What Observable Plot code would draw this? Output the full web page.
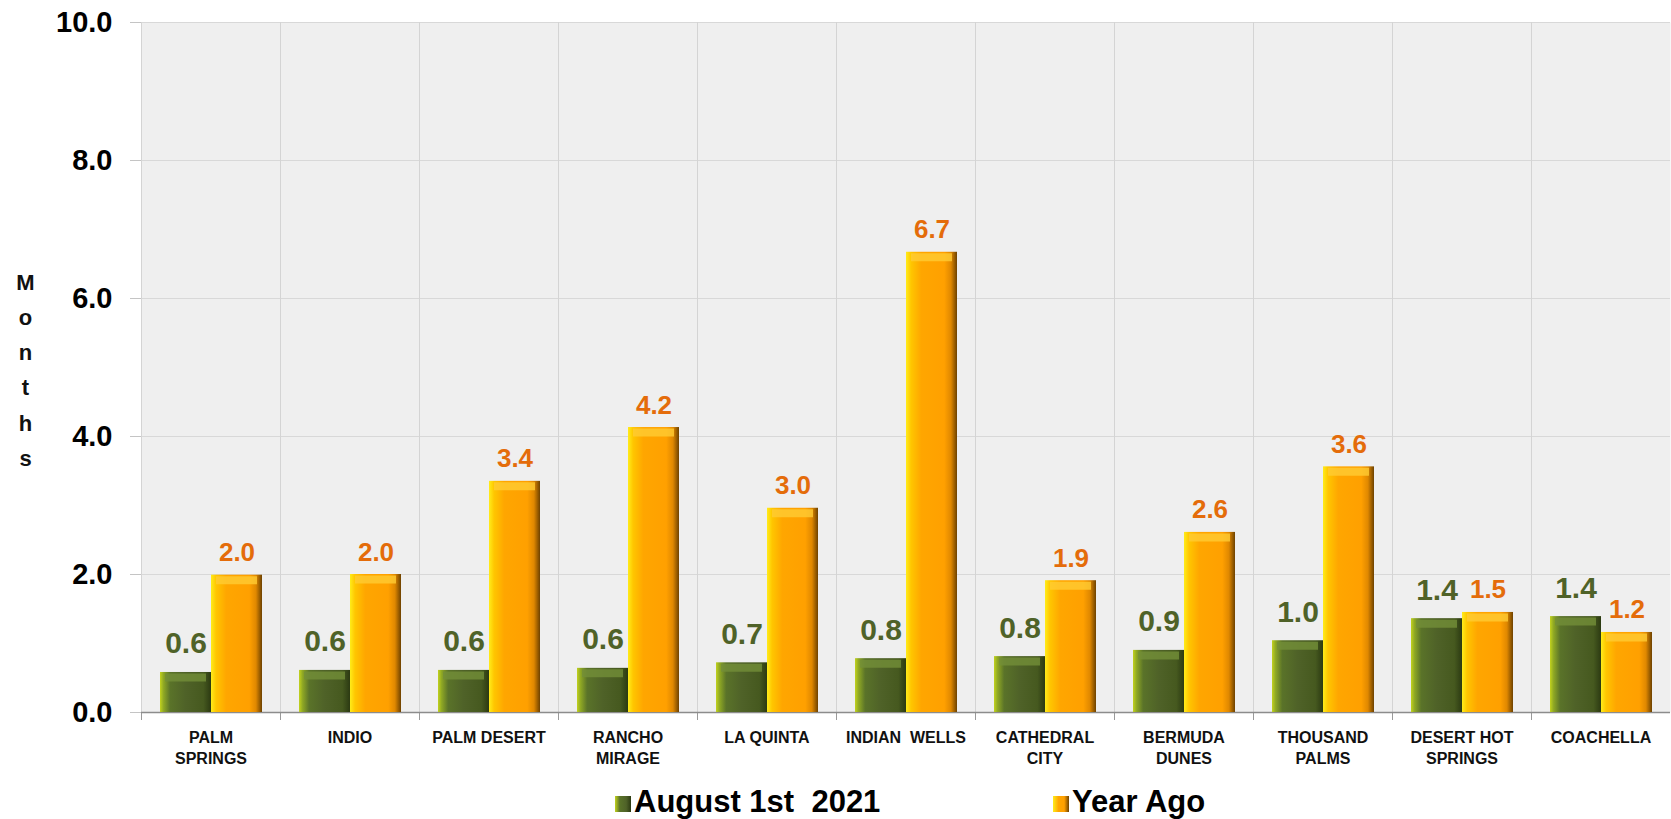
<!DOCTYPE html>
<html>
<head>
<meta charset="utf-8">
<script src="https://cdn.jsdelivr.net/npm/d3@7"></script>
<script src="https://cdn.jsdelivr.net/npm/@observablehq/plot@0.6"></script>
<style>
  html, body { margin: 0; padding: 0; background: #fff; }
  body { width: 1671px; height: 819px; overflow: hidden; font-family: "Liberation Sans", Arial, sans-serif; }
  #legend { position: relative; height: 47px; width: 1671px; font-weight: bold; color: #000; }
  .item { position: absolute; top: 14px; display: flex; align-items: flex-end; }
  .sw { width: 16px; height: 16px; margin-right: 3px; margin-bottom: 5px; }
  .lt { font-size: 31px; line-height: 31px; white-space: pre; }
</style>
</head>
<body>
<div id="chart"></div>
<div id="legend"></div>
<script>
const cities = ["PALM SPRINGS","INDIO","PALM DESERT","RANCHO MIRAGE","LA QUINTA","INDIAN WELLS","CATHEDRAL CITY","BERMUDA DUNES","THOUSAND PALMS","DESERT HOT SPRINGS","COACHELLA"];
const cityLabels = ["PALM\nSPRINGS","INDIO","PALM DESERT","RANCHO\nMIRAGE","LA QUINTA","INDIAN  WELLS","CATHEDRAL\nCITY","BERMUDA\nDUNES","THOUSAND\nPALMS","DESERT HOT\nSPRINGS","COACHELLA"];
const seriesNames = ["August 1st  2021", "Year Ago"];
const currentValues = [0.58, 0.61, 0.61, 0.64, 0.72, 0.78, 0.81, 0.90, 1.04, 1.36, 1.39];
const yearAgoValues = [1.99, 2.00, 3.35, 4.13, 2.96, 6.67, 1.91, 2.61, 3.56, 1.45, 1.16];
const currentLabels = ["0.6","0.6","0.6","0.6","0.7","0.8","0.8","0.9","1.0","1.4","1.4"];
const yearAgoLabels = ["2.0","2.0","3.4","4.2","3.0","6.7","1.9","2.6","3.6","1.5","1.2"];
const yTicks = [0, 2, 4, 6, 8, 10];
const yAxisTitle = "Months";

const green = cities.map((c, i) => ({city: c, series: seriesNames[0], value: currentValues[i], label: currentLabels[i]}));
const orange = cities.map((c, i) => ({city: c, series: seriesNames[1], value: yearAgoValues[i], label: yearAgoLabels[i]}));
const font = "'Liberation Sans', Arial, sans-serif";

const svg = Plot.plot({
  width: 1671,
  height: 772,
  marginLeft: 139,
  marginRight: 0,
  marginTop: 22,
  marginBottom: 60,
  style: {fontFamily: font, background: "#fff", overflow: "visible"},
  fx: {domain: cities, padding: 0, axis: null, label: null},
  x: {domain: seriesNames, paddingInner: 0, paddingOuter: 0.34, axis: null},
  y: {domain: [0, 10], axis: null},
  marks: [
    Plot.frame({fill: "#efefef"}),
    Plot.gridY({ticks: yTicks, stroke: "#d8d8d8", strokeOpacity: 1}),
    Plot.frame({anchor: "left", stroke: "#d4d4d4"}),
    Plot.frame({anchor: "left", stroke: "#9a9a9a", insetTop: 690, insetBottom: -7}),
    Plot.ruleY([0], {stroke: "#8c8c8c", strokeWidth: 1.3}),
    Plot.axisY({ticks: yTicks, tickFormat: d3.format(".1f"), tickSize: 11, tickPadding: 18,
      fontSize: 29, fontWeight: "bold", stroke: "#c4c4c4", fill: "#000", label: null}),
    Plot.barY(green, {fx: "city", x: "series", y: "value", fill: "url(#gradGreen)", ariaLabel: "bars"}),
    Plot.barY(orange, {fx: "city", x: "series", y: "value", fill: "url(#gradOrange)", ariaLabel: "bars"}),
    Plot.tickY(green, {fx: "city", x: "series", y: "value", stroke: "#738f38", strokeWidth: 8, dy: 5, insetLeft: 5, insetRight: 5, strokeOpacity: 0.8}),
    Plot.tickY(orange, {fx: "city", x: "series", y: "value", stroke: "#ffcc33", strokeWidth: 8, dy: 5, insetLeft: 5, insetRight: 5, strokeOpacity: 0.8}),
    Plot.text(green, {fx: "city", x: "series", y: "value", text: "label", fill: "#4f6228", fontSize: 30, fontWeight: "bold", lineAnchor: "bottom", dy: -19}),
    Plot.text(orange, {fx: "city", x: "series", y: "value", text: "label", fill: "#e46c0a", fontSize: 26, fontWeight: "bold", lineAnchor: "bottom", dy: -14}),
    Plot.text(cities, {fx: d => d, text: (d, i) => cityLabels[i], frameAnchor: "bottom", lineAnchor: "top", dy: 16,
      fontSize: 16, fontWeight: "bold", lineHeight: 1.31, fill: "#111", ariaLabel: "city-label"}),
    Plot.text([cities[0]], {fx: d => d, text: () => yAxisTitle.split("").join("\n"), frameAnchor: "left", dx: -116, dy: -1,
      textAnchor: "middle", lineAnchor: "middle", fontSize: 22, fontWeight: "bold", lineHeight: 1.6, fill: "#111"})
  ]
});

const s = d3.select(svg);
const defs = s.insert("defs", ":first-child");
const gg = defs.append("linearGradient").attr("id", "gradGreen").attr("x1", 0).attr("x2", 1).attr("y1", 0).attr("y2", 0);
[[0, "#c2d21e"], [0.07, "#8fa824"], [0.2, "#5a7329"], [0.5, "#4f6228"], [0.85, "#46591f"], [1, "#2c3a12"]]
  .forEach(([o, c]) => gg.append("stop").attr("offset", o).attr("stop-color", c));
const go = defs.append("linearGradient").attr("id", "gradOrange").attr("x1", 0).attr("x2", 1).attr("y1", 0).attr("y2", 0);
[[0, "#ffec1a"], [0.1, "#ffc600"], [0.3, "#ffa600"], [0.75, "#ffa000"], [0.88, "#e08800"], [1, "#6e4200"]]
  .forEach(([o, c]) => go.append("stop").attr("offset", o).attr("stop-color", c));
const f = defs.append("filter").attr("id", "shadow").attr("x", "-20%").attr("y", "-10%").attr("width", "150%").attr("height", "120%");
f.append("feDropShadow").attr("dx", 4).attr("dy", 1).attr("stdDeviation", 3).attr("flood-color", "#000").attr("flood-opacity", 0.35);
s.selectAll('g[aria-label="bars"]').attr("filter", "url(#shadow)");
s.selectAll('g[aria-label="city-label"] text').style("letter-spacing", "1.7px");

document.getElementById("chart").appendChild(svg);

const legend = d3.select("#legend");
const items = [{name: seriesNames[0], grad: "linear-gradient(90deg,#c2d21e,#5a7329 30%,#4f6228 70%,#2c3a12)", left: 615},
               {name: seriesNames[1], grad: "linear-gradient(90deg,#ffec1a,#ffa600 35%,#ffa000 70%,#6e4200)", left: 1053}];
items.forEach(it => {
  const d = legend.append("div").attr("class", "item").style("left", it.left + "px");
  d.append("div").attr("class", "sw").style("background", it.grad);
  d.append("span").attr("class", "lt").text(it.name);
});
</script>
</body>
</html>
